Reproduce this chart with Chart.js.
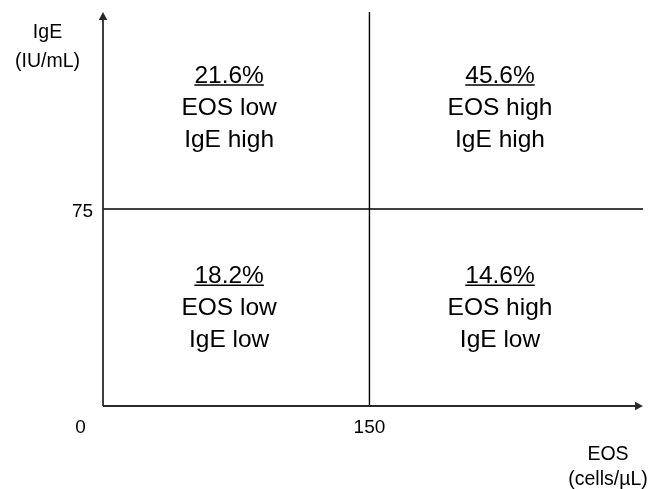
<!DOCTYPE html>
<html><head><meta charset="utf-8">
<script src="https://cdn.jsdelivr.net/npm/chart.js@4/dist/chart.umd.min.js"></script>
<style>html,body{margin:0;padding:0;background:#fff}#wrap{width:650px;height:489px}</style>
</head><body><div id="wrap"><canvas id="c"></canvas></div>
<script>
const eosCutoff = 150;
const igeCutoff = 75;
const xTickLabels = ['0', '150'];
const yTickLabels = ['75'];
const quadrantPercents = ['21.6%', '45.6%', '18.2%', '14.6%'];
const quadrantEos = ['EOS low', 'EOS high', 'EOS low', 'EOS high'];
const quadrantIge = ['IgE high', 'IgE high', 'IgE low', 'IgE low'];
const xAxisTitle = ['EOS', '(cells/µL)'];
const yAxisTitle = ['IgE', '(IU/mL)'];

const FONT = '"Liberation Sans", Arial, sans-serif';
const axisInk = '#2a2a2a';

const overlay = {
  id: 'overlay',
  afterDraw(chart) {
    const {ctx, chartArea: a, scales: {x, y}} = chart;
    ctx.save();
    ctx.strokeStyle = axisInk; ctx.fillStyle = axisInk; ctx.lineWidth = 1.8;
    // axes
    ctx.beginPath();
    ctx.moveTo(a.left, a.bottom); ctx.lineTo(a.right - 5, a.bottom);
    ctx.moveTo(a.left, a.bottom); ctx.lineTo(a.left, a.top + 5);
    ctx.stroke();
    // arrowheads
    ctx.beginPath();
    ctx.moveTo(a.right, a.bottom); ctx.lineTo(a.right - 8, a.bottom - 4.3); ctx.lineTo(a.right - 8, a.bottom + 4.3); ctx.closePath();
    ctx.fill();
    ctx.beginPath();
    ctx.moveTo(a.left, a.top); ctx.lineTo(a.left - 4.3, a.top + 8); ctx.lineTo(a.left + 4.3, a.top + 8); ctx.closePath();
    ctx.fill();
    // tick labels
    ctx.fillStyle = '#000';
    ctx.textAlign = 'center'; ctx.textBaseline = 'alphabetic';
    ctx.font = '19px ' + FONT;
    ctx.fillText(xTickLabels[0], x.getPixelForValue(0) - 22.5, a.bottom + 26.5);
    ctx.fillText(xTickLabels[1], x.getPixelForValue(eosCutoff), a.bottom + 26.5);
    ctx.fillText(yTickLabels[0], a.left - 20.5, y.getPixelForValue(igeCutoff) + 7.5);
    // axis titles
    ctx.font = '19.5px ' + FONT;
    ctx.fillText(yAxisTitle[0], 47.5, 37.7);
    ctx.fillText(yAxisTitle[1], 47.5, 66.5);
    ctx.fillText(xAxisTitle[0], 608, 460);
    ctx.fillText(xAxisTitle[1], 608, 485);
    // quadrant text
    const fs = 24.5;
    ctx.font = fs + 'px ' + FONT;
    const cx = [x.getPixelForValue(71), x.getPixelForValue(223.5)];
    const cy = [y.getPixelForValue(114.2), y.getPixelForValue(38)];
    const off = 0.358 * fs;
    for (let i = 0; i < 4; i++) {
      const px = cx[i % 2], py = cy[Math.floor(i / 2)];
      ctx.fillText(quadrantPercents[i], px, py - 32 + off);
      const w = ctx.measureText(quadrantPercents[i]).width;
      ctx.lineWidth = 1.5; ctx.strokeStyle = '#000';
      const uy = py - 32 + off + 2.2;
      ctx.beginPath(); ctx.moveTo(px - w / 2, uy); ctx.lineTo(px + w / 2, uy); ctx.stroke();
      ctx.fillText(quadrantEos[i], px, py + off);
      ctx.fillText(quadrantIge[i], px, py + 32 + off);
    }
    ctx.restore();
  }
};

new Chart(document.getElementById('c'), {
  type: 'scatter',
  data: {
    datasets: [
      {data: [{x: eosCutoff, y: 0}, {x: eosCutoff, y: 150}], showLine: true, borderColor: '#000', borderWidth: 1.4, pointRadius: 0},
      {data: [{x: 0, y: igeCutoff}, {x: 304, y: igeCutoff}], showLine: true, borderColor: '#000', borderWidth: 1.4, pointRadius: 0}
    ]
  },
  options: {
    responsive: true, maintainAspectRatio: false, animation: false,
    layout: {padding: {left: 103, right: 7, top: 12, bottom: 83}},
    plugins: {legend: {display: false}, tooltip: {enabled: false}},
    scales: {
      x: {type: 'linear', min: 0, max: 304, display: false},
      y: {type: 'linear', min: 0, max: 150, display: false}
    }
  },
  plugins: [overlay]
});
</script></body></html>
